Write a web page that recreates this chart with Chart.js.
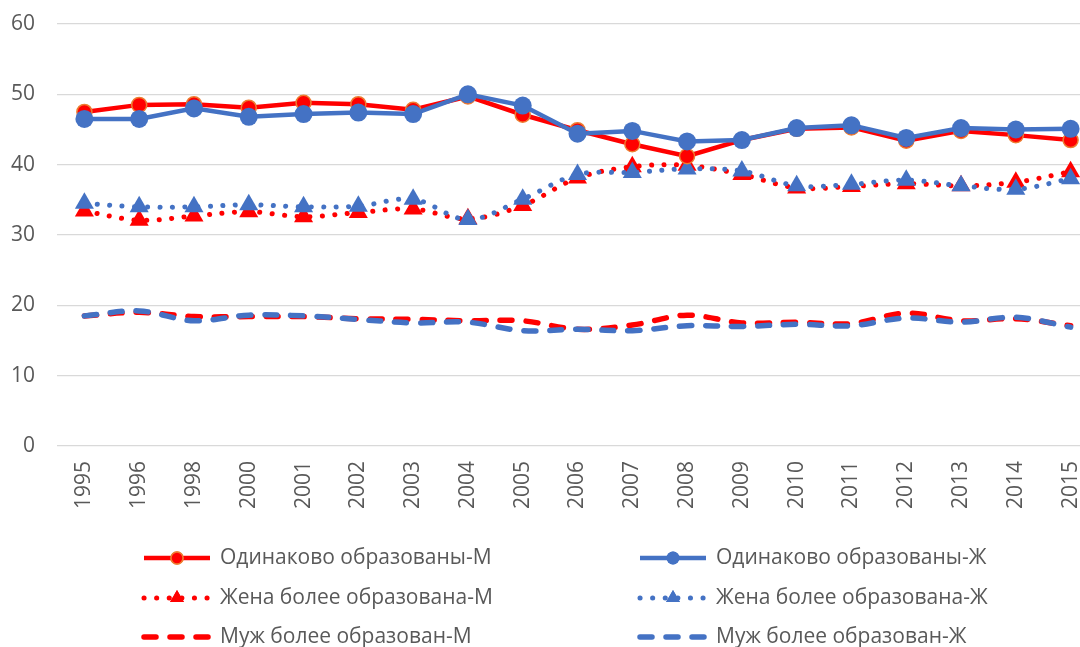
<!DOCTYPE html>
<html lang="ru">
<head>
<meta charset="utf-8">
<title>Образование супругов</title>
<script src="https://cdn.jsdelivr.net/npm/chart.js@4.4.1/dist/chart.umd.min.js"></script>
<style>
    html, body { margin: 0; padding: 0; background: #ffffff; overflow: hidden; }
    #wrap { position: relative; width: 1109px; height: 647px; }
    #eduChart { display: block; }
</style>
</head>
<body>
<div id="wrap"><canvas id="eduChart" width="1109" height="647"></canvas></div>
<script>
/* Data */
const years = ['1995', '1996', '1998', '2000', '2001', '2002', '2003', '2004', '2005', '2006',
               '2007', '2008', '2009', '2010', '2011', '2012', '2013', '2014', '2015'];

const sameM  = [47.5, 48.5, 48.6, 48.1, 48.8, 48.6, 47.8, 49.7, 47.1, 44.9, 42.9, 41.2, 43.5, 45.1, 45.3, 43.4, 44.8, 44.2, 43.5];
const sameF  = [46.5, 46.5, 48.0, 46.8, 47.2, 47.4, 47.2, 50.0, 48.4, 44.4, 44.8, 43.3, 43.5, 45.2, 45.6, 43.8, 45.2, 45.0, 45.1];
const wifeM  = [33.4, 32.1, 32.7, 33.3, 32.6, 33.2, 33.7, 32.3, 34.2, 38.1, 39.7, 39.9, 38.6, 36.7, 36.9, 37.3, 37.0, 37.5, 39.0];
const wifeF  = [34.5, 34.0, 34.0, 34.3, 34.0, 34.1, 35.1, 32.2, 35.1, 38.6, 38.9, 39.4, 39.1, 37.0, 37.2, 37.8, 37.0, 36.5, 38.0];
const husbM  = [18.5, 19.0, 18.4, 18.4, 18.4, 18.1, 18.0, 17.8, 17.8, 16.6, 17.2, 18.6, 17.5, 17.6, 17.4, 18.9, 17.8, 18.1, 17.1];
const husbF  = [18.5, 19.2, 17.8, 18.6, 18.5, 18.0, 17.5, 17.6, 16.4, 16.6, 16.4, 17.1, 17.0, 17.3, 17.1, 18.2, 17.6, 18.3, 16.9];

const yTicks = [0, 10, 20, 30, 40, 50, 60];

const COLORS = {
    red: '#FF0000',
    orange: '#ED7D31',
    blue: '#4472C4',
    text: '#595959',
    grid: '#D9D9D9',
    none: 'rgba(0, 0, 0, 0)'
};

const FONT = '"Open Sans", "DejaVu Sans", sans-serif';

/**
 * Legend drawn by hand: line sample with marker in the middle, 2 columns x 3 rows
 */
const legendPlugin = {
    id: 'excelLegend',
    afterDraw(chart) {
        const ctx = chart.ctx;
        const cols = [142, 638];
        const rows = [558, 598, 637];
        const lineLen = 70;
        const textGap = 8;

        chart.data.datasets.forEach((ds, i) => {
            const x0 = cols[i % 2];
            const y = rows[Math.floor(i / 2)];

            ctx.save();
            ctx.strokeStyle = ds.borderColor;
            ctx.lineWidth = ds.borderWidth;
            ctx.lineCap = ds.borderCapStyle || 'butt';
            ctx.setLineDash(ds.borderDash || []);
            ctx.beginPath();
            ctx.moveTo(x0 + 2, y);
            ctx.lineTo(x0 + lineLen - 2, y);
            ctx.stroke();
            ctx.setLineDash([]);

            if (ds.pointRadius > 0) {
                ctx.fillStyle = ds.pointBackgroundColor;
                ctx.strokeStyle = ds.pointBorderColor;
                ctx.lineWidth = ds.pointBorderWidth;
                Chart.helpers.drawPoint(ctx, {
                    pointStyle: ds.pointStyle,
                    radius: ds.legendRadius,
                    borderWidth: ds.pointBorderWidth,
                    rotation: 0
                }, x0 + lineLen / 2, y);
                ctx.fill();
                if (ds.pointBorderWidth) ctx.stroke();
            }

            ctx.fillStyle = COLORS.text;
            ctx.font = '21px ' + FONT;
            ctx.textBaseline = 'middle';
            ctx.textAlign = 'left';
            ctx.fillText(ds.label, x0 + lineLen + textGap, y);
            ctx.restore();
        });
    }
};

/**
 * Create the line chart
 */
const createEduChart = () => {
    const ctx = document.getElementById('eduChart').getContext('2d');

    return new Chart(ctx, {
        type: 'line',
        data: {
            labels: years,
            datasets: [
                {
                    label: 'Одинаково образованы-М',
                    data: sameM,
                    borderColor: COLORS.red,
                    borderWidth: 4.5,
                    pointStyle: 'circle',
                    pointRadius: 7.5,
                    legendRadius: 6,
                    pointBackgroundColor: COLORS.red,
                    pointBorderColor: COLORS.orange,
                    pointBorderWidth: 1.5,
                    tension: 0,
                    order: 1
                },
                {
                    label: 'Одинаково образованы-Ж',
                    data: sameF,
                    borderColor: COLORS.blue,
                    borderWidth: 4.5,
                    pointStyle: 'circle',
                    pointRadius: 9,
                    legendRadius: 6.5,
                    pointBackgroundColor: COLORS.blue,
                    pointBorderColor: COLORS.blue,
                    pointBorderWidth: 0,
                    tension: 0,
                    order: 0
                },
                {
                    label: 'Жена более образована-М',
                    data: wifeM,
                    borderColor: COLORS.red,
                    borderWidth: 5,
                    borderDash: [0.1, 12.5],
                    borderCapStyle: 'round',
                    pointStyle: 'triangle',
                    pointRadius: 11,
                    legendRadius: 8,
                    pointBackgroundColor: COLORS.red,
                    pointBorderColor: COLORS.red,
                    pointBorderWidth: 0,
                    tension: 0.35,
                    order: 3
                },
                {
                    label: 'Жена более образована-Ж',
                    data: wifeF,
                    borderColor: COLORS.blue,
                    borderWidth: 5,
                    borderDash: [0.1, 12.5],
                    borderCapStyle: 'round',
                    pointStyle: 'triangle',
                    pointRadius: 11,
                    legendRadius: 8,
                    pointBackgroundColor: COLORS.blue,
                    pointBorderColor: COLORS.blue,
                    pointBorderWidth: 0,
                    tension: 0.35,
                    order: 2
                },
                {
                    label: 'Муж более образован-М',
                    data: husbM,
                    borderColor: COLORS.red,
                    borderWidth: 5.5,
                    borderDash: [12, 14],
                    borderCapStyle: 'round',
                    pointRadius: 0,
                    legendRadius: 0,
                    tension: 0.35,
                    order: 5
                },
                {
                    label: 'Муж более образован-Ж',
                    data: husbF,
                    borderColor: COLORS.blue,
                    borderWidth: 5.5,
                    borderDash: [12, 14],
                    borderCapStyle: 'round',
                    pointRadius: 0,
                    legendRadius: 0,
                    tension: 0.35,
                    order: 4
                }
            ]
        },
        options: {
            responsive: false,
            animation: false,
            devicePixelRatio: 1,
            layout: { padding: { top: 24, right: 1, bottom: 0, left: 0 } },
            scales: {
                x: {
                    offset: true,
                    grid: { color: COLORS.none, drawTicks: true, tickLength: 15, tickColor: COLORS.none },
                    border: { display: false },
                    ticks: {
                        color: COLORS.text,
                        font: { size: 21, family: FONT },
                        minRotation: 90,
                        maxRotation: 90,
                        padding: 0,
                        autoSkip: false
                    },
                    afterFit: (scale) => { scale.height = 201; }
                },
                y: {
                    min: 0,
                    max: 60,
                    afterBuildTicks: (scale) => {
                        scale.ticks = yTicks.map(v => ({ value: v }));
                    },
                    grid: { color: COLORS.grid, lineWidth: 1.3, drawTicks: true, tickLength: 22, tickColor: COLORS.none },
                    border: { display: false },
                    ticks: {
                        color: COLORS.text,
                        font: { size: 21, family: FONT },
                        padding: 0
                    },
                    afterFit: (scale) => { scale.width = 57; }
                }
            },
            plugins: {
                legend: { display: false },
                tooltip: { enabled: false }
            }
        },
        plugins: [legendPlugin]
    });
};

createEduChart();
</script>
</body>
</html>
